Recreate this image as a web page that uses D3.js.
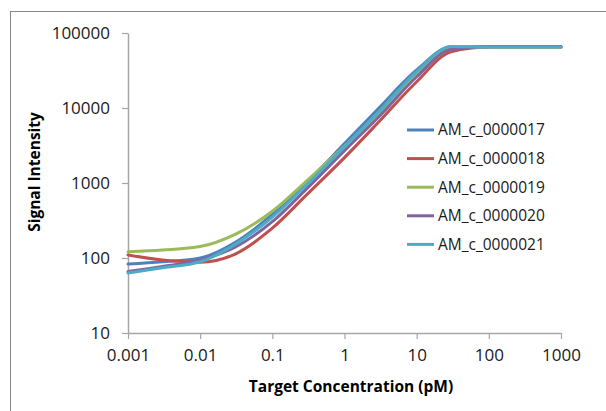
<!DOCTYPE html>
<html>
<head>
<meta charset="utf-8">
<script src="https://cdn.jsdelivr.net/npm/d3@7"></script>
<style>
  body { margin: 0; background: #ffffff; }
  svg { display: block; font-family: "Open Sans", "Liberation Sans", sans-serif; }
</style>
</head>
<body>
<svg id="chart" width="606" height="411"></svg>
<script>

// Data

const concentrations = [0.001, 0.003, 0.01, 0.03, 0.1, 0.3, 1, 3, 10, 30, 100, 1000];

const seriesNames = ["AM_c_0000017", "AM_c_0000018", "AM_c_0000019", "AM_c_0000020", "AM_c_0000021"];

const am17 = [83, 89, 100, 160, 380, 1020, 3350, 10000, 32100, 65000, 65000, 65000];
const am18 = [110, 94, 88, 112, 250, 700, 2180, 6560, 22400, 56300, 65000, 65000];
const am19 = [121, 128, 142, 205, 420, 1070, 3100, 8490, 29300, 63100, 65000, 65000];
const am20 = [66, 77, 94, 138, 305, 840, 2700, 7650, 26100, 60600, 66000, 66000];
const am21 = [63, 74, 89, 150, 350, 950, 3050, 8930, 30500, 66100, 65000, 65000];

const xTicks = [0.001, 0.01, 0.1, 1, 10, 100, 1000];
const yTicks = [10, 100, 1000, 10000, 100000];

const colors = ["#4F81BD", "#C0504D", "#9BBB59", "#8064A2", "#4BACC6"];

const allSeries = [am17, am18, am19, am20, am21];

// Scales

const svg = d3.select("#chart");

const x = d3.scaleLog()
    .domain([0.001, 1000])
    .range([128, 561]);

const y = d3.scaleLog()
    .domain([10, 100000])
    .range([333, 33]);

// Outer chart border
svg.append("rect")
    .attr("x", 10.5)
    .attr("y", 11.5)
    .attr("width", 700)
    .attr("height", 500)
    .attr("fill", "none")
    .attr("stroke", "#878787")
    .attr("stroke-width", 1);

// Axes

const xAxis = svg.append("g")
    .attr("transform", "translate(0,333)")
    .call(d3.axisBottom(x).tickValues(xTicks).tickFormat(function(d) { return String(d); }).tickSize(6).tickSizeOuter(0));

const yAxis = svg.append("g")
    .attr("transform", "translate(128,0)")
    .call(d3.axisLeft(y).tickValues(yTicks).tickFormat(function(d) { return String(d); }).tickSize(6).tickSizeOuter(0));

[xAxis, yAxis].forEach(function(ax) {
    ax.select(".domain").attr("stroke", "#a6a6a6").attr("stroke-width", 1.5);
    ax.selectAll(".tick line").attr("stroke", "#a6a6a6").attr("stroke-width", 1.2);
    ax.selectAll(".tick text")
        .attr("fill", "#1a1a1a")
        .style("font-size", "17px")
        .style("font-family", "'Open Sans', sans-serif");
});

xAxis.selectAll(".tick text").attr("y", 16);
yAxis.selectAll(".tick text").attr("x", -18);

// Axis titles
svg.append("text")
    .attr("x", 351)
    .attr("y", 392)
    .attr("text-anchor", "middle")
    .style("font-size", "15.5px")
    .style("font-weight", "bold")
    .attr("fill", "#000")
    .text("Target Concentration (pM)");

svg.append("text")
    .attr("transform", "translate(40,172) rotate(-90)")
    .attr("text-anchor", "middle")
    .style("font-size", "15.5px")
    .style("font-weight", "bold")
    .attr("fill", "#000")
    .text("Signal Intensity");

// Lines

const line = d3.line()
    .x(function(d) { return x(d[0]); })
    .y(function(d) { return y(d[1]); })
    .curve(d3.curveMonotoneX);

allSeries.forEach(function(values, i) {
    const points = values.map(function(v, j) { return [concentrations[j], v]; });
    svg.append("path")
        .datum(points)
        .attr("d", line)
        .attr("fill", "none")
        .attr("stroke", colors[i])
        .attr("stroke-width", 3)
        .attr("stroke-linejoin", "round")
        .attr("stroke-linecap", "round");
});

// Legend

const legend = svg.append("g").attr("transform", "translate(407,130)");

seriesNames.forEach(function(name, i) {
    const row = legend.append("g").attr("transform", "translate(0," + (i * 28.6) + ")");
    row.append("line")
        .attr("x1", 0)
        .attr("x2", 27)
        .attr("y1", 0)
        .attr("y2", 0)
        .attr("stroke", colors[i])
        .attr("stroke-width", 3);
    row.append("text")
        .attr("x", 31)
        .attr("y", 0)
        .attr("dy", "0.35em")
        .style("font-size", "15.5px")
        .attr("fill", "#1a1a1a")
        .text(name);
});

</script>
</body>
</html>
